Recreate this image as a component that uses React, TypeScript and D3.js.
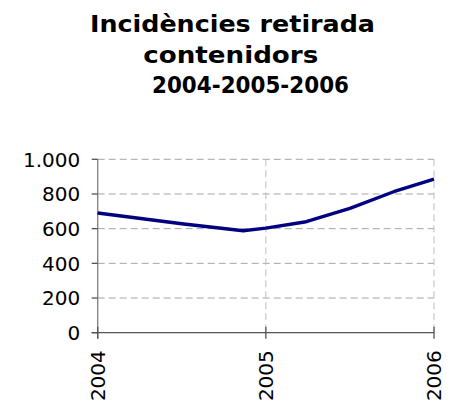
import * as d3 from "d3";
import React from "react";

// title lines
const titleLines = ["Incidències retirada", "contenidors", "2004-2005-2006"];

// data points (fractional year, value)
const years = [2004.0, 2004.5, 2004.865, 2005.0, 2005.24, 2005.5, 2005.76, 2006.0];
const values = [690, 628, 588, 603, 640, 717, 813, 886];

const yTicks = [0, 200, 400, 600, 800, 1000];
const xTicks = [2004, 2005, 2006];

const W = 459;
const H = 407;
const margin = { left: 97.7, right: 25, top: 159.3, bottom: 74.3 };

const fmt = (v: number) => (v >= 1000 ? d3.format(",")(v).replace(",", ".") : String(v));

export default function App() {
  const x = d3
    .scaleLinear()
    .domain([2004, 2006])
    .range([margin.left, W - margin.right]);
  const y = d3
    .scaleLinear()
    .domain([0, 1000])
    .range([H - margin.bottom, margin.top]);

  const line = d3
    .line<number>()
    .x((_, i) => x(years[i]))
    .y((d) => y(d));

  const titleLayout = [
    { left: 90, y: 32, len: 285 },
    { left: 143.3, y: 63, len: 175 },
    { left: 152, y: 93, len: 197 },
  ];

  const x0 = x(2004);
  const x1 = x(2006);

  return (
    <svg
      width={W}
      height={H}
      style={{ position: "absolute", left: 0, top: 0, background: "#fff" }}
      fontFamily="'DejaVu Sans', Verdana, sans-serif"
    >
      {titleLines.map((t, i) => (
        <text
          key={t}
          x={titleLayout[i].left}
          y={titleLayout[i].y}
          fontWeight="bold"
          fontSize={23}
          textLength={titleLayout[i].len}
          lengthAdjust="spacingAndGlyphs"
          fill="#000"
        >
          {t}
        </text>
      ))}

      {/* horizontal grid */}
      {yTicks
        .filter((t) => t > 0)
        .map((t) => (
          <line
            key={"hg" + t}
            x1={x0}
            x2={x1}
            y1={y(t)}
            y2={y(t)}
            stroke="#a6a6a6"
            strokeDasharray="7,4"
          />
        ))}
      {/* vertical grid */}
      {xTicks
        .filter((t) => t > 2004)
        .map((t) => (
          <line
            key={"vg" + t}
            x1={x(t)}
            x2={x(t)}
            y1={y(1000)}
            y2={y(0)}
            stroke="#bdbdbd"
            strokeDasharray="7,4"
          />
        ))}

      {/* axes */}
      <line x1={x0} x2={x0} y1={y(1000)} y2={y(0) + 6} stroke="#7f7f7f" strokeWidth={1.3} />
      <line x1={x0 - 6} x2={x1} y1={y(0)} y2={y(0)} stroke="#555" strokeWidth={1.3} />
      {yTicks.map((t) => (
        <g key={"yt" + t}>
          <line x1={x0 - 6} x2={x0} y1={y(t)} y2={y(t)} stroke="#555" strokeWidth={1.3} />
          <text x={x0 - 17.5} y={y(t)} dy="0.36em" textAnchor="end" fontSize={20} fill="#000">
            {fmt(t)}
          </text>
        </g>
      ))}
      {xTicks.map((t) => (
        <g key={"xt" + t}>
          <line x1={x(t)} x2={x(t)} y1={y(0) - 6} y2={y(0) + 6} stroke="#555" strokeWidth={1.3} />
          <text
            transform={`translate(${x(t)},${y(0) + 17.5}) rotate(-90)`}
            dy="0.36em"
            textAnchor="end"
            fontSize={20}
            fill="#000"
          >
            {t}
          </text>
        </g>
      ))}

      <path d={line(values) ?? ""} fill="none" stroke="#000080" strokeWidth={3.4} strokeLinejoin="round" />
    </svg>
  );
}
